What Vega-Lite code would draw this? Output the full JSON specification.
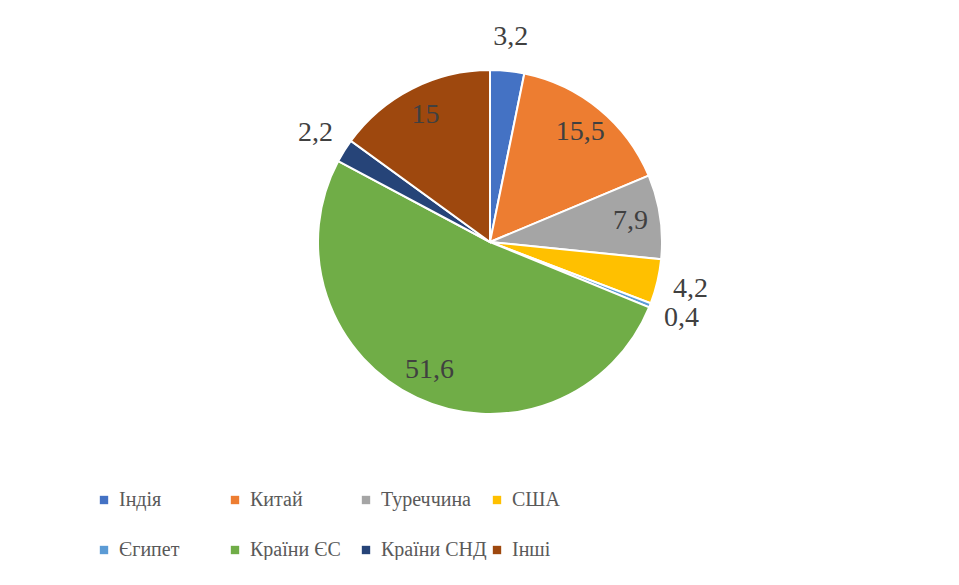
{
  "$schema": "https://vega.github.io/schema/vega-lite/v6.json",
  "width": 938,
  "height": 484,
  "padding": {"left": 21, "top": 0, "right": 0, "bottom": 0},
  "background": "white",
  "view": {"stroke": null},
  "config": {
    "font": "Liberation Serif",
    "legend": {"labelFont": "Liberation Serif"}
  },
  "data": {"values": [
    {"i": 1, "country": "Індія", "value": 3.2, "label": "3,2"},
    {"i": 2, "country": "Китай", "value": 15.5, "label": "15,5"},
    {"i": 3, "country": "Туреччина", "value": 7.9, "label": "7,9"},
    {"i": 4, "country": "США", "value": 4.2, "label": "4,2"},
    {"i": 5, "country": "Єгипет", "value": 0.4, "label": "0,4"},
    {"i": 6, "country": "Країни ЄС", "value": 51.6, "label": "51,6"},
    {"i": 7, "country": "Країни СНД", "value": 2.2, "label": "2,2"},
    {"i": 8, "country": "Інші", "value": 15, "label": "15"}
  ]},
  "encoding": {
    "theta": {"field": "value", "type": "quantitative", "stack": true},
    "order": {"field": "i", "type": "quantitative"}
  },
  "layer": [
    {
      "mark": {"type": "arc", "outerRadius": 172, "stroke": "white", "strokeWidth": 2},
      "encoding": {
        "color": {
          "field": "country", "type": "nominal",
          "sort": ["Індія", "Китай", "Туреччина", "США", "Єгипет", "Країни ЄС", "Країни СНД", "Інші"],
          "scale": {
            "domain": ["Індія", "Китай", "Туреччина", "США", "Єгипет", "Країни ЄС", "Країни СНД", "Інші"],
            "range": ["#4472C4", "#ED7D31", "#A5A5A5", "#FFC000", "#5B9BD5", "#70AD47", "#264478", "#9E480E"]
          },
          "legend": {
            "title": null,
            "orient": "none",
            "legendX": 73,
            "legendY": 490,
            "direction": "horizontal",
            "columns": 4,
            "gridAlign": "all",
            "columnPadding": 0,
            "rowPadding": 30,
            "symbolType": "square",
            "symbolSize": 70,
            "symbolStrokeWidth": 0,
            "labelOffset": 5,
            "labelFontSize": 20,
            "labelColor": "#595959",
            "labelLimit": 300
          }
        }
      }
    },
    {
      "mark": {"type": "text", "radius": 142, "fontSize": 28, "color": "#404040", "baseline": "middle", "align": "center"},
      "encoding": {"text": {"condition": {"test": "datum.value >= 5", "field": "label"}, "value": ""}}
    },
    {
      "mark": {"type": "text", "radius": 206, "fontSize": 28, "color": "#404040", "baseline": "middle", "align": "center"},
      "encoding": {"text": {"condition": {"test": "datum.value < 5", "field": "label"}, "value": ""}}
    }
  ]
}
